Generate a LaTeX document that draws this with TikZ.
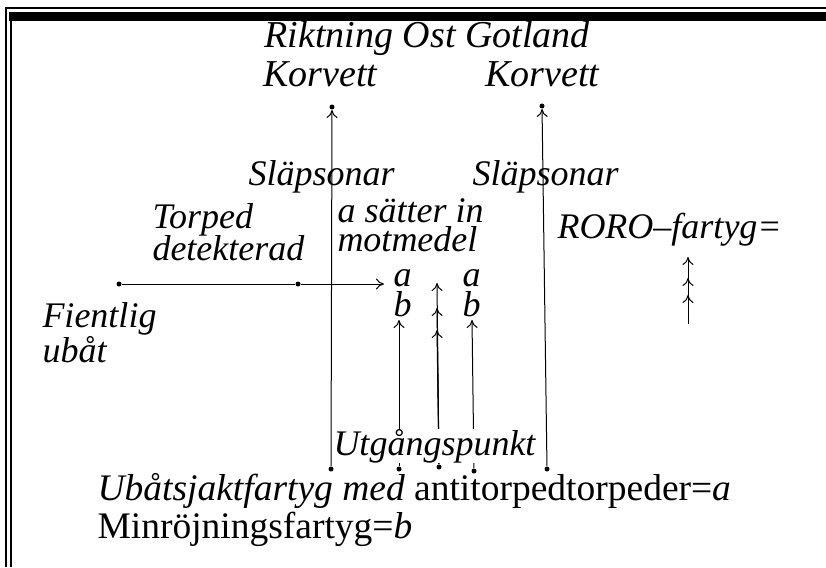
\documentclass[tikz,border=0pt]{standalone}
\usepackage{fontspec}
\setmainfont{Liberation Serif}
\usetikzlibrary{arrows.meta}

\begin{document}
\begin{tikzpicture}[x=1pt, y=-1pt, line width=1pt,
    lbl/.style = {inner sep=0pt, anchor=base west, font=\fontsize{36}{36}\selectfont\itshape},
    big/.style = {lbl, font=\fontsize{38}{38}\selectfont\itshape},
    dot/.style = {circle, fill, inner sep=0pt, minimum size=5pt},
    tip/.style = {-{To[length=8pt,width=11pt]}}]
    \useasboundingbox (0,0) rectangle (826,567);
    % frame
    \fill (9,12) rectangle (826,21);
    \draw[line width=1.5pt] (6,567) -- (6,8) -- (826,8);
    \draw[line width=1.5pt] (11,567) -- (11,21);
    % labels
    \node[big] (riktning) at (264,48) {Riktning Ost Gotland};
    \node[big] (korv1) at (263,87) {Korvett};
    \node[big] (korv2) at (485,87) {Korvett};
    \node[lbl] (slap1) at (248,185) {Släpsonar};
    \node[lbl] (slap2) at (472,185) {Släpsonar};
    \node[lbl] (torped) at (152,228) {Torped};
    \node[lbl] (detekt) at (152,260) {detekterad};
    \node[lbl] (satter) at (337,222) {a sätter in};
    \node[lbl] (motmedel) at (337,251) {motmedel};
    \node[lbl] (roro) at (557,238) {RORO–fartyg=};
    \node[lbl] (fientlig) at (42,327) {Fientlig};
    \node[lbl] (ubat) at (42,362) {ubåt};
    \node[lbl] (a1) at (393,286) {a};
    \node[lbl] (b1) at (393,316) {b};
    \node[lbl] (a2) at (462,286) {a};
    \node[lbl] (b2) at (462,316) {b};
    \node[lbl, font=\fontsize{37.5}{38}\selectfont\itshape] (ubj) at (97,500)
        {Ubåtsjaktfartyg med \upshape antitorpedtorpeder=\textit{a}};
    \node[lbl, font=\fontsize{37.5}{38}\selectfont\upshape] (minr) at (97,538)
        {Minröjningsfartyg=\textit{b}};
    % dots and ends
    \node[dot] (d1) at (119,284) {};
    \node[dot] (d2) at (298,284) {};
    \coordinate (h) at (384,284);
    \node[dot] (k1b) at (331,469) {};
    \node[dot] (k1t) at (332,107) {};
    \node[dot] (bl) at (399,469) {};
    \coordinate (blt) at (399,320);
    \node[dot] (mid) at (439,467) {};
    \coordinate (m1) at (437,283);
    \coordinate (m2) at (437,308);
    \coordinate (m3) at (437,330);
    \node[dot] (br) at (474,471) {};
    \coordinate (brt) at (472,320);
    \node[dot] (k2b) at (547,469) {};
    \node[dot] (k2t) at (542,106) {};
    \coordinate (rr) at (688,324);
    \coordinate (r1) at (688,257);
    \coordinate (r2) at (688,278);
    \coordinate (r3) at (688,295);
    % arrows
    \draw[tip] (d1) -- (d2) -- (h);
    \draw[tip] (k1b) -- (k1t);
    \draw[tip] (bl) -- (blt);
    \draw[tip] (mid) -- (m1);
    \draw[tip] (mid) -- (m2);
    \draw[tip] (mid) -- (m3);
    \draw[tip] (br) -- (brt);
    \draw[tip] (k2b) -- (k2t);
    \draw[tip] (rr) -- (r1);
    \draw[tip] (rr) -- (r2);
    \draw[tip] (rr) -- (r3);
    \node[lbl, fill=white] (utg) at (333,455) {Utgångspunkt};
\end{tikzpicture}
\end{document}
